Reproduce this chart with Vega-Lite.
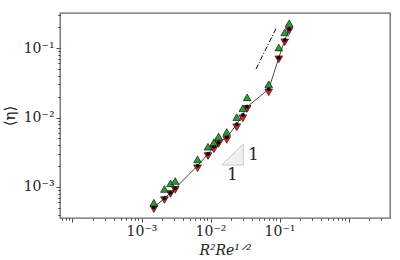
{
  "$schema": "https://vega.github.io/schema/vega-lite/v6.json",
  "width": 330,
  "height": 205,
  "autosize": {"type": "none"},
  "padding": {"left": 60, "top": 13, "right": 10, "bottom": 42},
  "background": "white",
  "config": {
    "view": {"stroke": "#666666", "strokeWidth": 1.3},
    "font": "DejaVu Serif",
    "axis": {
      "domain": false,
      "grid": false,
      "labelFont": "DejaVu Serif",
      "labelFontSize": 14,
      "labelColor": "#222222",
      "tickColor": "#444444",
      "tickWidth": 1,
      "labelOverlap": false,
      "labelBound": false,
      "labelFlush": false,
      "titleFont": "DejaVu Serif",
      "titleFontSize": 14,
      "titleFontWeight": "normal",
      "titleColor": "#222222"
    }
  },
  "datasets": {
    "pts": [
      {"x": 0.00151, "up": 0.000594, "mean": 0.00051, "down": 0.00048},
      {"x": 0.00215, "up": 0.000936, "mean": 0.000688, "down": 0.00065},
      {"x": 0.00263, "up": 0.00113, "mean": 0.000828, "down": 0.000793},
      {"x": 0.00308, "up": 0.00122, "mean": 0.000957, "down": 0.000906},
      {"x": 0.00648, "up": 0.0025, "mean": 0.00202, "down": 0.00186},
      {"x": 0.0092, "up": 0.0038, "mean": 0.00299, "down": 0.00279},
      {"x": 0.0112, "up": 0.00441, "mean": 0.0038, "down": 0.00349},
      {"x": 0.0131, "up": 0.00533, "mean": 0.00434, "down": 0.00416},
      {"x": 0.0172, "up": 0.00618, "mean": 0.00519, "down": 0.00475},
      {"x": 0.024, "up": 0.0101, "mean": 0.00798, "down": 0.00723},
      {"x": 0.0294, "up": 0.0136, "mean": 0.0109, "down": 0.00974},
      {"x": 0.034, "up": 0.0195, "mean": 0.0143, "down": 0.0133},
      {"x": 0.0697, "up": 0.0301, "mean": 0.0255, "down": 0.023},
      {"x": 0.0977, "up": 0.1016, "mean": 0.0725, "down": 0.0688},
      {"x": 0.119, "up": 0.168, "mean": 0.13, "down": 0.121},
      {"x": 0.138, "up": 0.227, "mean": 0.186, "down": 0.176}
    ],
    "guide": [
      {"x": 0.0456, "y": 0.0499},
      {"x": 0.091, "y": 0.199}
    ],
    "tri": [
      {"x": 0.0145, "y": 0.00207, "y2": 0.00207},
      {"x": 0.0299, "y": 0.00416, "y2": 0.00207}
    ],
    "lbl": [
      {"x": 0.0207, "y": 0.00149, "t": "1"},
      {"x": 0.0417, "y": 0.00288, "t": "1"}
    ]
  },
  "layer": [
    {
      "data": {"name": "tri"},
      "mark": {"type": "area", "fill": "#efefef", "stroke": "#cccccc", "strokeWidth": 1},
      "encoding": {
        "x": {"field": "x", "type": "quantitative",
              "scale": {"type": "log", "domain": [0.0000659, 3.99], "nice": false},
              "axis": {
                "title": "R²Re¹ᐟ²",
                "titleFontStyle": "italic",
                "titlePadding": 5,
                "values": [0.00007,0.00008,0.00009,0.0001,0.0002,0.0003,0.0004,0.0005,0.0006,0.0007,0.0008,0.0009,0.001,0.002,0.003,0.004,0.005,0.006,0.007,0.008,0.009,0.01,0.02,0.03,0.04,0.05,0.06,0.07,0.08,0.09,0.1,0.2,0.3,0.4,0.5,0.6,0.7,0.8,0.9,1,2,3],
                "labelExpr": "abs(datum.value-0.001)<1e-9 ? '10⁻³' : abs(datum.value-0.01)<1e-8 ? '10⁻²' : abs(datum.value-0.1)<1e-7 ? '10⁻¹' : ''",
                "tickSize": {"condition": {"test": "abs(log(datum.value)/LN10 - round(log(datum.value)/LN10)) < 0.001", "value": 4}, "value": 2.2},
                "labelPadding": 2
              }},
        "y": {"field": "y", "type": "quantitative",
              "scale": {"type": "log", "domain": [0.000358, 0.319], "nice": false},
              "axis": {
                "title": "⟨η⟩",
                "titleFontSize": 15,
                "titlePadding": 6,
                "values": [0.0004,0.0005,0.0006,0.0007,0.0008,0.0009,0.001,0.002,0.003,0.004,0.005,0.006,0.007,0.008,0.009,0.01,0.02,0.03,0.04,0.05,0.06,0.07,0.08,0.09,0.1,0.2,0.3],
                "labelExpr": "abs(datum.value-0.001)<1e-9 ? '10⁻³' : abs(datum.value-0.01)<1e-8 ? '10⁻²' : abs(datum.value-0.1)<1e-7 ? '10⁻¹' : ''",
                "tickSize": {"condition": {"test": "abs(log(datum.value)/LN10 - round(log(datum.value)/LN10)) < 0.001", "value": 4}, "value": 2.2},
                "labelPadding": 2
              }},
        "y2": {"field": "y2"}
      }
    },
    {
      "data": {"name": "lbl"},
      "mark": {"type": "text", "fontSize": 17, "font": "DejaVu Serif", "color": "#222222"},
      "encoding": {
        "x": {"field": "x", "type": "quantitative", "scale": {"type": "log", "domain": [0.0000659, 3.99], "nice": false}},
        "y": {"field": "y", "type": "quantitative", "scale": {"type": "log", "domain": [0.000358, 0.319], "nice": false}},
        "text": {"field": "t"}
      }
    },
    {
      "data": {"name": "guide"},
      "mark": {"type": "line", "color": "black", "strokeWidth": 1, "strokeDash": [5, 2, 1, 2]},
      "encoding": {
        "x": {"field": "x", "type": "quantitative", "scale": {"type": "log", "domain": [0.0000659, 3.99], "nice": false}},
        "y": {"field": "y", "type": "quantitative", "scale": {"type": "log", "domain": [0.000358, 0.319], "nice": false}}
      }
    },
    {
      "data": {"name": "pts"},
      "mark": {"type": "line", "color": "#333333", "strokeWidth": 0.9},
      "encoding": {
        "x": {"field": "x", "type": "quantitative", "scale": {"type": "log", "domain": [0.0000659, 3.99], "nice": false}},
        "y": {"field": "mean", "type": "quantitative", "scale": {"type": "log", "domain": [0.000358, 0.319], "nice": false}}
      }
    },
    {
      "data": {"name": "pts"},
      "mark": {"type": "point", "shape": "triangle-down", "filled": true, "fill": "#e8252a", "stroke": "black", "strokeWidth": 0.6, "size": 60, "opacity": 1},
      "encoding": {
        "x": {"field": "x", "type": "quantitative", "scale": {"type": "log", "domain": [0.0000659, 3.99], "nice": false}},
        "y": {"field": "down", "type": "quantitative", "scale": {"type": "log", "domain": [0.000358, 0.319], "nice": false}}
      }
    },
    {
      "data": {"name": "pts"},
      "mark": {"type": "point", "shape": "circle", "filled": true, "fill": "black", "stroke": "black", "strokeWidth": 0.5, "size": 12, "opacity": 1},
      "encoding": {
        "x": {"field": "x", "type": "quantitative", "scale": {"type": "log", "domain": [0.0000659, 3.99], "nice": false}},
        "y": {"field": "mean", "type": "quantitative", "scale": {"type": "log", "domain": [0.000358, 0.319], "nice": false}}
      }
    },
    {
      "data": {"name": "pts"},
      "mark": {"type": "point", "shape": "triangle-up", "filled": true, "fill": "#2e9a36", "stroke": "black", "strokeWidth": 0.6, "size": 60, "opacity": 1},
      "encoding": {
        "x": {"field": "x", "type": "quantitative", "scale": {"type": "log", "domain": [0.0000659, 3.99], "nice": false}},
        "y": {"field": "up", "type": "quantitative", "scale": {"type": "log", "domain": [0.000358, 0.319], "nice": false}}
      }
    }
  ]
}
